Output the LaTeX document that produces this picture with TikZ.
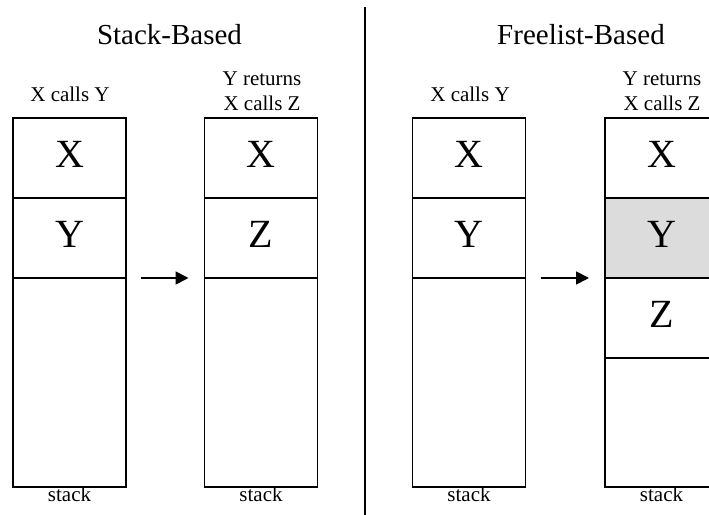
\documentclass[tikz,border=0pt]{standalone}
\usepackage{fontspec}
\setmainfont{Liberation Serif}
\usetikzlibrary{positioning}
\usetikzlibrary{arrows.meta}
\definecolor{freedgray}{RGB}{220,220,220}

\begin{document}
\begin{tikzpicture}[x=1pt, y=1pt,
    cell/.style={draw, line width=1.8pt, minimum width=113pt, minimum height=80pt, inner sep=0pt, outer sep=0pt, text height=27pt, text depth=7pt, font=\fontsize{40}{40}\selectfont},
    rest/.style={cell, minimum height=209pt},
    lbl/.style={font=\fontsize{21}{25}\selectfont, align=center, inner sep=0pt},
    ttl/.style={font=\fontsize{29}{30}\selectfont, inner sep=0pt},
    arr/.style={line width=1.8pt, -{Triangle[length=13pt, width=13pt]}, shorten <=15pt, shorten >=16pt}]

    \useasboundingbox (0,0) rectangle (709,514);

    % titles and divider
    \node [ttl, anchor=base] (tstack) at (169.5, 469) {Stack-Based};
    \node [ttl, anchor=base] (tfree) at (581, 469) {Freelist-Based};
    \draw[line width=1.8pt] (365, 507) -- (365, -2);

    % stack-based, before
    \node [cell] (x1) at (69.5, 356) {X};
    \node [cell, below=0pt of x1] (y1) {Y};
    \node [rest, below=0pt of y1] (e1) {};
    \node [lbl, anchor=base] (c1) at (70, 412) {X calls Y};
    \node [lbl, anchor=base] (s1) at ([yshift=-14.5pt]e1.south) {stack};

    % stack-based, after
    \node [cell] (x2) at (261, 356) {X};
    \node [cell, below=0pt of x2] (z2) {Z};
    \node [rest, below=0pt of z2] (e2) {};
    \node [lbl, anchor=base] (c2) at (262, 403) {Y returns\\X calls Z};
    \node [lbl, anchor=base] (s2) at ([yshift=-14.5pt]e2.south) {stack};

    \draw[arr] (e1.north east) -- (e2.north west);

    % freelist-based, before
    \node [cell] (x3) at (469, 356) {X};
    \node [cell, below=0pt of x3] (y3) {Y};
    \node [rest, below=0pt of y3] (e3) {};
    \node [lbl, anchor=base] (c3) at (470, 412) {X calls Y};
    \node [lbl, anchor=base] (s3) at ([yshift=-14.5pt]e3.south) {stack};

    % freelist-based, after
    \node [cell] (x4) at (661.5, 356) {X};
    \node [cell, fill=freedgray, below=0pt of x4] (y4) {Y};
    \node [cell, below=0pt of y4] (z4) {Z};
    \node [rest, minimum height=129pt, below=0pt of z4] (e4) {};
    \node [lbl, anchor=base] (c4) at (662, 403) {Y returns\\X calls Z};
    \node [lbl, anchor=base] (s4) at ([yshift=-14.5pt]e4.south) {stack};

    \draw[arr] (e3.north east) -- (y4.south west);

\end{tikzpicture}
\end{document}
